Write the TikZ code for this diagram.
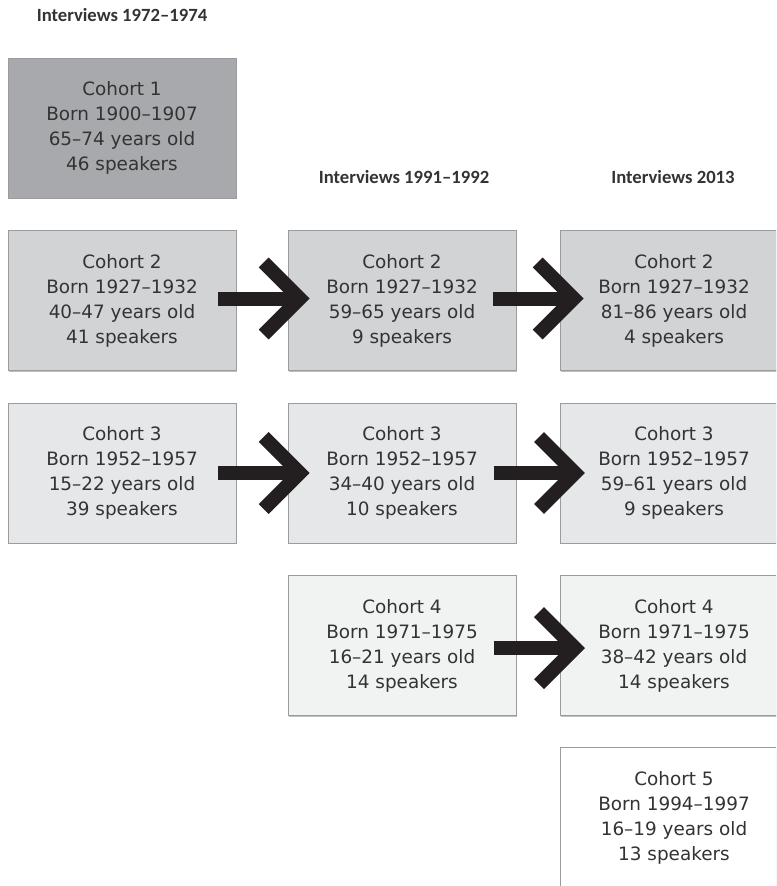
\documentclass[tikz,border=0pt]{standalone}
\usepackage{fontspec}
\setmainfont{DejaVu Sans}
\newfontfamily\headfont{Carlito}
\usetikzlibrary{arrows.meta, shadows}
\definecolor{cohortone}{HTML}{A8A9AC}
\definecolor{cohorttwo}{HTML}{D2D3D5}
\definecolor{cohortthree}{HTML}{E6E7E8}
\definecolor{cohortfour}{HTML}{F1F2F2}
\definecolor{boxedge}{HTML}{9A9B9D}
\definecolor{textgray}{HTML}{333333}
\definecolor{arrowblack}{HTML}{231F20}

\begin{document}
\begin{tikzpicture}[x=0.75pt, y=-0.75pt,
  cohort/.style={rectangle, minimum width=171pt, minimum height=105pt,
                 align=center, draw=boxedge, line width=0.6pt, text=textgray,
                 font=\fontsize{13.8}{18.75}\selectfont,
                 drop shadow={shadow xshift=0.6pt, shadow yshift=-1pt,
                              opacity=0.25, fill=black}},
  header/.style={font=\headfont\bfseries\fontsize{14}{16}\selectfont,
                 text=textgray},
  bigarr/.style={-{Straight Barb[length=27pt, width=54pt, sharp]},
                 line width=10.5pt, color=arrowblack}
]
\useasboundingbox (0,0) rectangle (776,886);
\clip (0,0) rectangle (776,886);

% column headers
\node[header] (hdA) at (122,15) {Interviews 1972–1974};
\node[header] (hdB) at (404,177) {Interviews 1991–1992};
\node[header] (hdC) at (673,177) {Interviews 2013};

% first interviews
\node[cohort, fill=cohortone] (c1) at (122,128)
  {Cohort 1\\Born 1900–1907\\65–74 years old\\46 speakers};
\node[cohort, fill=cohorttwo] (c2a) at (122,300.5)
  {Cohort 2\\Born 1927–1932\\40–47 years old\\41 speakers};
\node[cohort, fill=cohortthree] (c3a) at (122,473)
  {Cohort 3\\Born 1952–1957\\15–22 years old\\39 speakers};

% second interviews
\node[cohort, fill=cohorttwo] (c2b) at (402,300.5)
  {Cohort 2\\Born 1927–1932\\59–65 years old\\9 speakers};
\node[cohort, fill=cohortthree] (c3b) at (402,473)
  {Cohort 3\\Born 1952–1957\\34–40 years old\\10 speakers};
\node[cohort, fill=cohortfour] (c4b) at (402,645.5)
  {Cohort 4\\Born 1971–1975\\16–21 years old\\14 speakers};

% third interviews
\node[cohort, fill=cohorttwo] (c2c) at (674,300.5)
  {Cohort 2\\Born 1927–1932\\81–86 years old\\4 speakers};
\node[cohort, fill=cohortthree] (c3c) at (674,473)
  {Cohort 3\\Born 1952–1957\\59–61 years old\\9 speakers};
\node[cohort, fill=cohortfour] (c4c) at (674,645.5)
  {Cohort 4\\Born 1971–1975\\38–42 years old\\14 speakers};
\node[cohort, fill=white] (c5c) at (674,817.5)
  {Cohort 5\\Born 1994–1997\\16–19 years old\\13 speakers};

% follow-ups
\draw[bigarr] ([xshift=-13.5pt,yshift=1.5pt]c2a.east) -- ([xshift=16.5pt,yshift=1.5pt]c2b.west);
\draw[bigarr] ([xshift=-17.5pt,yshift=1.5pt]c2b.east) -- ([xshift=18pt,yshift=1.5pt]c2c.west);
\draw[bigarr] ([xshift=-13.5pt]c3a.east) -- ([xshift=16.5pt]c3b.west);
\draw[bigarr] ([xshift=-17pt]c3b.east) -- ([xshift=19pt]c3c.west);
\draw[bigarr] ([xshift=-17pt,yshift=-2pt]c4b.east) -- ([xshift=19pt,yshift=-2pt]c4c.west);

\end{tikzpicture}
\end{document}
